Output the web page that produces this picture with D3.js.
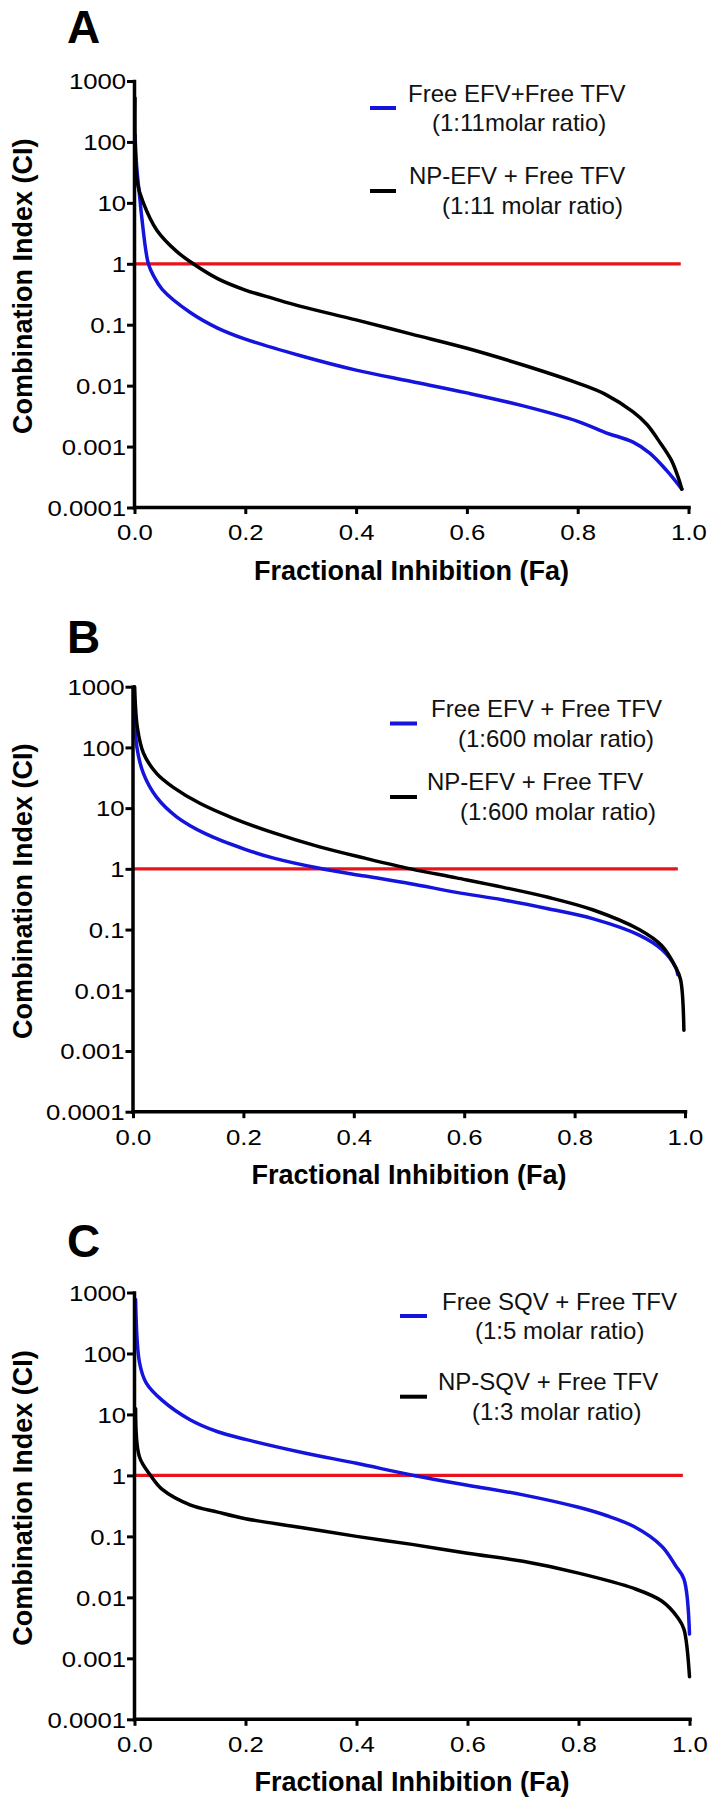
<!DOCTYPE html>
<html><head><meta charset="utf-8">
<script src="https://cdn.jsdelivr.net/npm/d3@7"></script>
<style>body{margin:0;background:#fff}svg{display:block}</style>
</head><body>
<svg id="c" width="711" height="1806"></svg>
<script>
// ---------------- DATA ----------------
const faTicks = [0, 0.2, 0.4, 0.6, 0.8, 1.0];
const xTickLabels = ["0.0", "0.2", "0.4", "0.6", "0.8", "1.0"];
const ciTicks = [1000, 100, 10, 1, 0.1, 0.01, 0.001, 0.0001];
const ciTickLabels = ["1000", "100", "10", "1", "0.1", "0.01", "0.001", "0.0001"];
const panelLetters = ["A", "B", "C"];
const xTitle = "Fractional Inhibition (Fa)";
const yTitle = "Combination Index (CI)";
const legendA = ["Free EFV+Free TFV", "(1:11molar ratio)", "NP-EFV + Free TFV", "(1:11 molar ratio)"];
const legendB = ["Free EFV + Free TFV", "(1:600 molar ratio)", "NP-EFV + Free TFV", "(1:600 molar ratio)"];
const legendC = ["Free SQV + Free TFV", "(1:5 molar ratio)", "NP-SQV + Free TFV", "(1:3 molar ratio)"];
const refCI = 1;
const refEnd = [0.986, 0.987, 0.988];

// Panel A
const faA_free = [0.001, 0.004, 0.010, 0.013, 0.025, 0.035, 0.05, 0.10, 0.15, 0.20, 0.30, 0.40, 0.50, 0.60, 0.70, 0.80, 0.85, 0.90, 0.93, 0.96, 0.988];
const ciA_free = [130, 39, 11, 5.9, 1.0, 0.62, 0.38, 0.16, 0.088, 0.058, 0.031, 0.018, 0.0117, 0.0076, 0.0047, 0.0026, 0.0017, 0.00118, 0.00078, 0.00041, 0.0002];
const faA_np = [0.001, 0.005, 0.016, 0.04, 0.076, 0.106, 0.15, 0.20, 0.25, 0.30, 0.40, 0.50, 0.60, 0.70, 0.80, 0.85, 0.90, 0.925, 0.945, 0.969, 0.982, 0.988];
const ciA_np = [525, 22, 10, 3.6, 1.6, 1.0, 0.57, 0.37, 0.27, 0.2, 0.12, 0.07, 0.041, 0.022, 0.011, 0.0072, 0.0037, 0.0023, 0.0013, 0.0006, 0.0003, 0.0002];

// Panel B
const faB_free = [0.001, 0.007, 0.019, 0.043, 0.079, 0.131, 0.203, 0.255, 0.338, 0.42, 0.503, 0.586, 0.669, 0.752, 0.834, 0.917, 0.958, 0.983, 0.987];
const ciB_free = [1000, 102, 37, 15, 7.2, 3.8, 2.1, 1.5, 1.02, 0.76, 0.57, 0.41, 0.31, 0.22, 0.15, 0.081, 0.047, 0.024, 0.018];
const faB_np = [0.003, 0.008, 0.019, 0.043, 0.073, 0.121, 0.182, 0.255, 0.338, 0.42, 0.503, 0.586, 0.669, 0.752, 0.834, 0.917, 0.958, 0.983, 0.992, 0.998];
const ciB_np = [1000, 210, 80, 37, 22, 12, 6.8, 3.9, 2.3, 1.5, 1.0, 0.71, 0.5, 0.34, 0.21, 0.1, 0.054, 0.024, 0.015, 0.0022];

// Panel C
const faC_free = [0.002, 0.009, 0.021, 0.05, 0.10, 0.15, 0.20, 0.30, 0.40, 0.503, 0.60, 0.70, 0.80, 0.85, 0.90, 0.95, 0.975, 0.99, 1.0];
const ciC_free = [770, 71, 33, 17, 8.2, 5.2, 3.9, 2.4, 1.58, 1.0, 0.69, 0.48, 0.30, 0.22, 0.145, 0.069, 0.033, 0.0199, 0.0025];
const faC_np = [0.002, 0.009, 0.029, 0.05, 0.10, 0.15, 0.20, 0.30, 0.40, 0.50, 0.60, 0.70, 0.80, 0.90, 0.95, 0.98, 0.99, 1.0];
const ciC_np = [12.4, 2.0, 1.0, 0.59, 0.33, 0.25, 0.195, 0.14, 0.10, 0.074, 0.053, 0.039, 0.025, 0.014, 0.0087, 0.0045, 0.003, 0.0005];

// ---------------- LAYOUT / STYLE ----------------
const FONT = "'Liberation Sans', Arial, Helvetica, sans-serif";
const BLUE = "#1414dc", BLACK = "#000", RED = "#e8141c";
const panels = [
  { top: 81, bottom: 507.5, left: 134.5, right: 688.5, letterY: 43,
    series: [[faA_free, ciA_free], [faA_np, ciA_np]], legendText: legendA,
    sw: [370, 396], swY: [108, 191], txt: [[408, 93], [432, 122], [409, 175], [442, 205]] },
  { top: 686.7, bottom: 1111.7, left: 133, right: 685, letterY: 653,
    series: [[faB_free, ciB_free], [faB_np, ciB_np]], legendText: legendB,
    sw: [390, 417], swY: [723.5, 797], txt: [[431, 708.3], [458, 738.3], [427, 781.7], [460, 811.7]] },
  { top: 1292.5, bottom: 1719.3, left: 134.5, right: 689.5, letterY: 1257,
    series: [[faC_free, ciC_free], [faC_np, ciC_np]], legendText: legendC,
    sw: [400, 427], swY: [1316, 1396.7], txt: [[442, 1301.7], [475, 1330], [438, 1381.7], [472, 1411.7]] }
];
const colors = [BLUE, BLACK];

const svg = d3.select("#c");
svg.append("rect").attr("width", 711).attr("height", 1806).attr("fill", "#fff");
const defs = svg.append("defs");

panels.forEach((P, pi) => {
  const x = d3.scaleLinear().domain([0, 1]).range([P.left, P.right]);
  const y = d3.scaleLog().domain([0.0001, 1000]).range([P.bottom, P.top]);
  const g = svg.append("g");

  defs.append("clipPath").attr("id", "clip" + pi).append("rect")
    .attr("x", P.left).attr("y", P.top - 4).attr("width", P.right - P.left + 6).attr("height", P.bottom - P.top + 4);

  // reference line CI = 1
  g.append("line")
    .attr("x1", x(0)).attr("x2", x(refEnd[pi]))
    .attr("y1", y(refCI)).attr("y2", y(refCI))
    .attr("stroke", RED).attr("stroke-width", 3.2);

  const line = d3.line().x(d => x(d[0])).y(d => y(d[1])).curve(d3.curveCatmullRom.alpha(0.5));
  const cg = g.append("g").attr("clip-path", `url(#clip${pi})`);
  P.series.forEach((s, si) => {
    const pts = s[0].map((f, i) => [f, s[1][i]]);
    cg.append("path").datum(pts).attr("d", line)
      .attr("fill", "none").attr("stroke", colors[si])
      .attr("stroke-width", 3.5).attr("stroke-linejoin", "round").attr("stroke-linecap", "round");
  });

  // axes
  const gy = g.append("g").attr("transform", `translate(${P.left - 0.5},0)`)
    .call(d3.axisLeft(y).tickValues(ciTicks).tickFormat((d, i) => ciTickLabels[i]).tickSize(7).tickSizeOuter(0));
  const gx = g.append("g").attr("transform", `translate(0,${P.bottom - 0.5})`)
    .call(d3.axisBottom(x).tickValues(faTicks).tickFormat((d, i) => xTickLabels[i]).tickSize(7).tickSizeOuter(0));
  [gy, gx].forEach(a => {
    a.select(".domain").attr("stroke", "#000").attr("stroke-width", 3.5).attr("stroke-linecap", "square");
    a.selectAll(".tick line").attr("stroke", "#000").attr("stroke-width", 3);
    a.selectAll(".tick text").attr("font-size", 23).attr("font-family", FONT).attr("fill", "#000")
      .attr("transform", "scale(1.12,1)");
  });
  gy.selectAll(".tick text").attr("x", -7).attr("dy", "0.34em");
  gx.selectAll(".tick text").attr("y", 17).attr("dy", "0.71em");

  // titles
  g.append("text").attr("x", (P.left + P.right) / 2).attr("y", P.bottom + 72)
    .attr("text-anchor", "middle").attr("font-family", FONT).attr("font-weight", "bold")
    .attr("font-size", 27).text(xTitle);
  g.append("text")
    .attr("transform", `translate(32,${(P.top + P.bottom) / 2 - 8}) rotate(-90)`)
    .attr("text-anchor", "middle").attr("font-family", FONT).attr("font-weight", "bold")
    .attr("font-size", 27).text(yTitle);
  g.append("text").attr("x", 67).attr("y", P.letterY)
    .attr("font-family", FONT).attr("font-weight", "bold").attr("font-size", 46)
    .text(panelLetters[pi]);

  // legend
  P.swY.forEach((sy, k) => {
    g.append("line").attr("x1", P.sw[0]).attr("x2", P.sw[1]).attr("y1", sy).attr("y2", sy)
      .attr("stroke", colors[k]).attr("stroke-width", 4);
  });
  P.txt.forEach((t, k) => {
    g.append("text").attr("x", t[0]).attr("y", t[1] + 8.5)
      .attr("font-family", FONT).attr("font-size", 24).attr("fill", "#111")
      .text(P.legendText[k]);
  });
});
</script>
</body></html>
